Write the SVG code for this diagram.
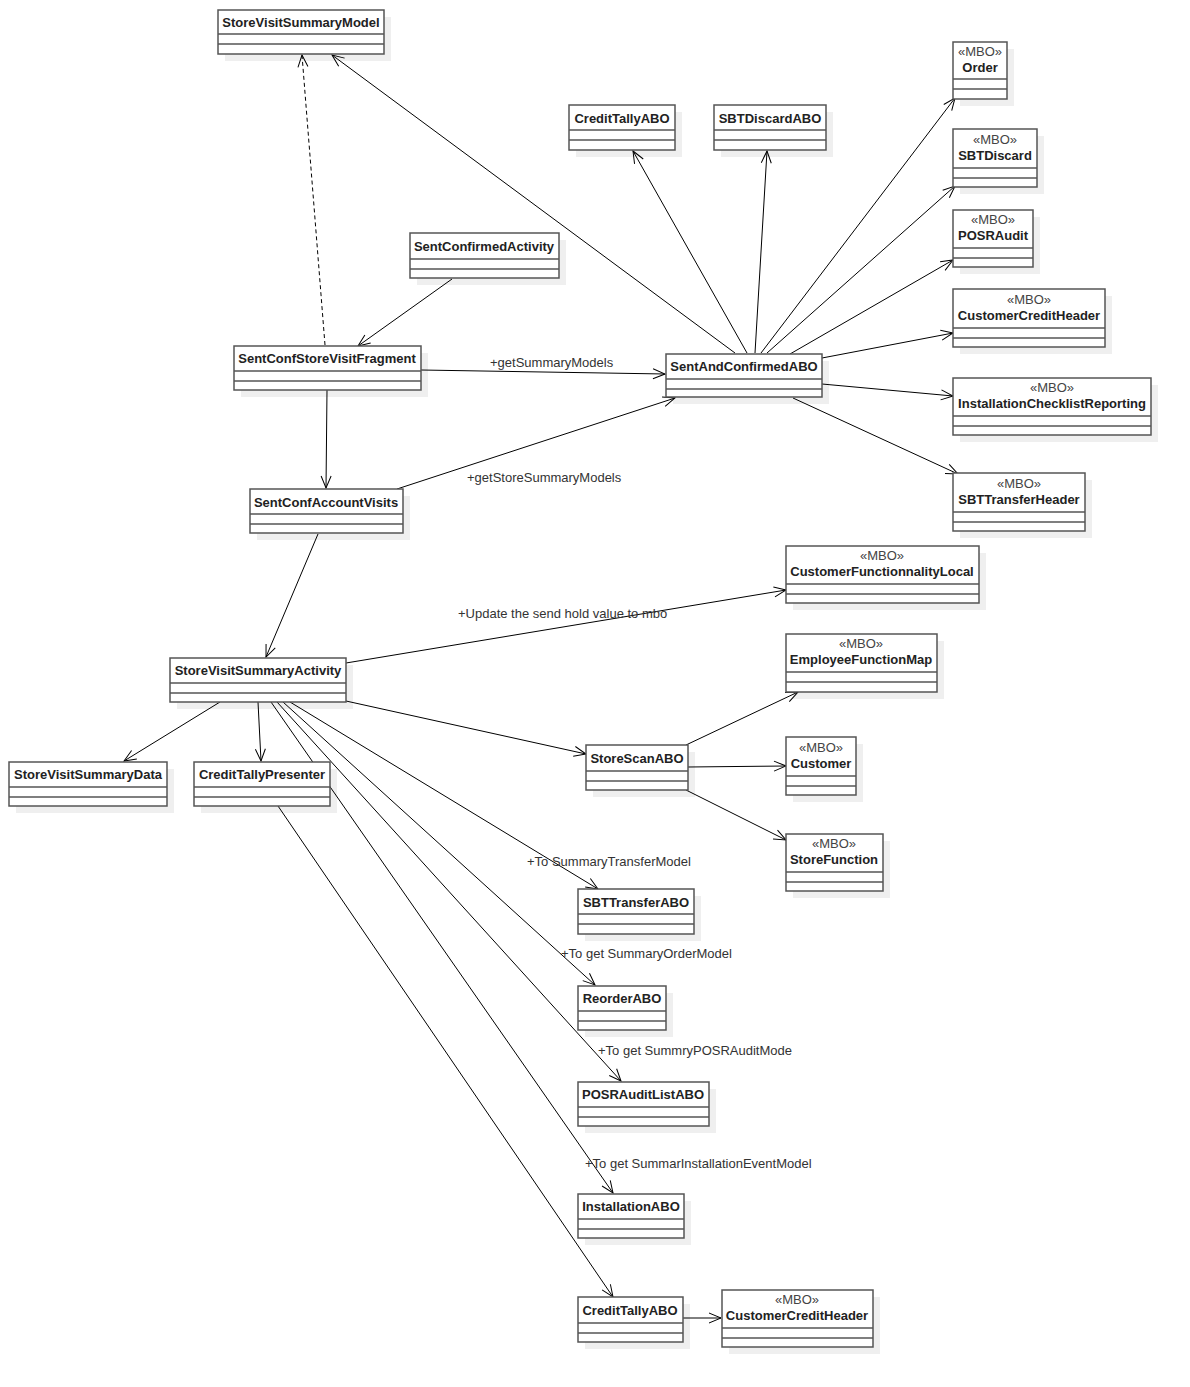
<svg xmlns="http://www.w3.org/2000/svg" width="1190" height="1387" viewBox="0 0 1190 1387">
<defs>
<style>
.sh{fill:#efefef;stroke:none}
.bx{fill:#fff;stroke:#555;stroke-width:1.5}
.sep{stroke:#555;stroke-width:1.5}
.nm{font-family:"Liberation Sans",Arial,sans-serif;font-size:13px;font-weight:bold;fill:#222;text-anchor:middle}
.st{font-family:"Liberation Sans",Arial,sans-serif;font-size:13px;fill:#444;text-anchor:middle}
.lb{font-family:"Liberation Sans",Arial,sans-serif;font-size:13px;fill:#333}
.ln{fill:none;stroke:#000;stroke-width:1;marker-end:url(#ah)}
.dl{fill:none;stroke:#000;stroke-width:1;stroke-dasharray:4,3;marker-end:url(#ah)}
</style>
<marker id="ah" markerUnits="userSpaceOnUse" markerWidth="14" markerHeight="12" refX="13" refY="6" orient="auto">
<path d="M1,1 L13,6 L1,11" fill="none" stroke="#000" stroke-width="1"/>
</marker>
</defs>
<rect width="1190" height="1387" fill="#fff"/>

<g id="shadows">
<rect class="sh" x="225" y="17" width="166" height="44"/>
<rect class="sh" x="960" y="49" width="54" height="57"/>
<rect class="sh" x="960" y="136" width="84" height="58"/>
<rect class="sh" x="960" y="217" width="80" height="57"/>
<rect class="sh" x="960" y="296" width="152" height="58"/>
<rect class="sh" x="960" y="385" width="198" height="57"/>
<rect class="sh" x="960" y="480" width="132" height="58"/>
<rect class="sh" x="576" y="112" width="106" height="45"/>
<rect class="sh" x="721" y="112" width="112" height="45"/>
<rect class="sh" x="417" y="240" width="149" height="45"/>
<rect class="sh" x="241" y="353" width="187" height="44"/>
<rect class="sh" x="673" y="361" width="156" height="43"/>
<rect class="sh" x="257" y="496" width="153" height="44"/>
<rect class="sh" x="177" y="665" width="176" height="44"/>
<rect class="sh" x="793" y="553" width="193" height="57"/>
<rect class="sh" x="793" y="641" width="151" height="58"/>
<rect class="sh" x="16" y="769" width="158" height="44"/>
<rect class="sh" x="201" y="769" width="136" height="44"/>
<rect class="sh" x="593" y="752" width="102" height="45"/>
<rect class="sh" x="793" y="744" width="70" height="58"/>
<rect class="sh" x="793" y="841" width="97" height="57"/>
<rect class="sh" x="585" y="896" width="116" height="45"/>
<rect class="sh" x="585" y="993" width="88" height="44"/>
<rect class="sh" x="585" y="1089" width="131" height="44"/>
<rect class="sh" x="585" y="1201" width="106" height="44"/>
<rect class="sh" x="585" y="1304" width="105" height="45"/>
<rect class="sh" x="729" y="1297" width="151" height="57"/>
</g>

<g id="connectors">
<line class="dl" x1="325" y1="345" x2="302" y2="55"/>
<line class="ln" x1="735" y1="353" x2="332" y2="55"/>
<line class="ln" x1="452" y1="279" x2="358" y2="346"/>
<line class="ln" x1="421" y1="370" x2="665" y2="374"/>
<line class="ln" x1="327" y1="390" x2="326" y2="488"/>
<line class="ln" x1="397" y1="489" x2="675" y2="398"/>
<line class="ln" x1="747" y1="353" x2="633" y2="151"/>
<line class="ln" x1="755" y1="353" x2="767" y2="151"/>
<line class="ln" x1="761" y1="353" x2="955" y2="98"/>
<line class="ln" x1="767" y1="353" x2="955" y2="186"/>
<line class="ln" x1="790" y1="354" x2="953" y2="260"/>
<line class="ln" x1="822" y1="358" x2="953" y2="333"/>
<line class="ln" x1="822" y1="384" x2="953" y2="396"/>
<line class="ln" x1="793" y1="398" x2="958" y2="474"/>
<line class="ln" x1="318" y1="534" x2="266" y2="657"/>
<line class="ln" x1="346" y1="663" x2="786" y2="590"/>
<line class="ln" x1="220" y1="702" x2="124" y2="761"/>
<line class="ln" x1="258" y1="702" x2="261" y2="761"/>
<line class="ln" x1="346" y1="701" x2="586" y2="754"/>
<line class="ln" x1="686" y1="745" x2="798" y2="692"/>
<line class="ln" x1="688" y1="767" x2="786" y2="766"/>
<line class="ln" x1="686" y1="790" x2="786" y2="840"/>
<line class="ln" x1="290" y1="702" x2="598" y2="889"/>
<line class="ln" x1="283" y1="702" x2="595" y2="985"/>
<line class="ln" x1="277" y1="702" x2="621" y2="1081"/>
<line class="ln" x1="271" y1="702" x2="613" y2="1193"/>
<line class="ln" x1="278" y1="806" x2="613" y2="1297"/>
<line class="ln" x1="683" y1="1318" x2="721" y2="1318"/>
<text class="lb" x="490" y="367">+getSummaryModels</text>
<text class="lb" x="467" y="482">+getStoreSummaryModels</text>
<text class="lb" x="458" y="618">+Update the send hold value to mbo</text>
<text class="lb" x="527" y="866">+To SummaryTransferModel</text>
<text class="lb" x="561" y="958">+To get SummaryOrderModel</text>
<text class="lb" x="598" y="1055">+To get SummryPOSRAuditMode</text>
<text class="lb" x="585" y="1168">+To get SummarInstallationEventModel</text>
</g>

<g id="StoreVisitSummaryModel"><rect class="bx" x="218" y="10" width="166" height="44"/><line class="sep" x1="218" y1="34" x2="384" y2="34"/><line class="sep" x1="218" y1="44" x2="384" y2="44"/><text class="nm" x="301" y="27">StoreVisitSummaryModel</text></g>

<g id="Order"><rect class="bx" x="953" y="42" width="54" height="57"/><line class="sep" x1="953" y1="79" x2="1007" y2="79"/><line class="sep" x1="953" y1="89" x2="1007" y2="89"/><text class="st" x="980" y="56">«MBO»</text><text class="nm" x="980" y="72">Order</text></g>

<g id="SBTDiscard"><rect class="bx" x="953" y="129" width="84" height="58"/><line class="sep" x1="953" y1="168" x2="1037" y2="168"/><line class="sep" x1="953" y1="178" x2="1037" y2="178"/><text class="st" x="995" y="144">«MBO»</text><text class="nm" x="995" y="160">SBTDiscard</text></g>

<g id="POSRAudit"><rect class="bx" x="953" y="210" width="80" height="57"/><line class="sep" x1="953" y1="248" x2="1033" y2="248"/><line class="sep" x1="953" y1="258" x2="1033" y2="258"/><text class="st" x="993" y="224">«MBO»</text><text class="nm" x="993" y="240">POSRAudit</text></g>

<g id="CustomerCreditHeader1"><rect class="bx" x="953" y="289" width="152" height="58"/><line class="sep" x1="953" y1="328" x2="1105" y2="328"/><line class="sep" x1="953" y1="338" x2="1105" y2="338"/><text class="st" x="1029" y="304">«MBO»</text><text class="nm" x="1029" y="320">CustomerCreditHeader</text></g>

<g id="InstallationChecklistReporting"><rect class="bx" x="953" y="378" width="198" height="57"/><line class="sep" x1="953" y1="416" x2="1151" y2="416"/><line class="sep" x1="953" y1="426" x2="1151" y2="426"/><text class="st" x="1052" y="392">«MBO»</text><text class="nm" x="1052" y="408">InstallationChecklistReporting</text></g>

<g id="SBTTransferHeader"><rect class="bx" x="953" y="473" width="132" height="58"/><line class="sep" x1="953" y1="512" x2="1085" y2="512"/><line class="sep" x1="953" y1="522" x2="1085" y2="522"/><text class="st" x="1019" y="488">«MBO»</text><text class="nm" x="1019" y="504">SBTTransferHeader</text></g>

<g id="CreditTallyABO1"><rect class="bx" x="569" y="105" width="106" height="45"/><line class="sep" x1="569" y1="130" x2="675" y2="130"/><line class="sep" x1="569" y1="140" x2="675" y2="140"/><text class="nm" x="622" y="123">CreditTallyABO</text></g>

<g id="SBTDiscardABO"><rect class="bx" x="714" y="105" width="112" height="45"/><line class="sep" x1="714" y1="130" x2="826" y2="130"/><line class="sep" x1="714" y1="140" x2="826" y2="140"/><text class="nm" x="770" y="123">SBTDiscardABO</text></g>

<g id="SentConfirmedActivity"><rect class="bx" x="410" y="233" width="149" height="45"/><line class="sep" x1="410" y1="259" x2="559" y2="259"/><line class="sep" x1="410" y1="269" x2="559" y2="269"/><text class="nm" x="484" y="251">SentConfirmedActivity</text></g>

<g id="SentConfStoreVisitFragment"><rect class="bx" x="234" y="346" width="187" height="44"/><line class="sep" x1="234" y1="371" x2="421" y2="371"/><line class="sep" x1="234" y1="381" x2="421" y2="381"/><text class="nm" x="327" y="363">SentConfStoreVisitFragment</text></g>

<g id="SentAndConfirmedABO"><rect class="bx" x="666" y="354" width="156" height="43"/><line class="sep" x1="666" y1="379" x2="822" y2="379"/><line class="sep" x1="666" y1="389" x2="822" y2="389"/><text class="nm" x="744" y="371">SentAndConfirmedABO</text></g>

<g id="SentConfAccountVisits"><rect class="bx" x="250" y="489" width="153" height="44"/><line class="sep" x1="250" y1="514" x2="403" y2="514"/><line class="sep" x1="250" y1="524" x2="403" y2="524"/><text class="nm" x="326" y="507">SentConfAccountVisits</text></g>

<g id="StoreVisitSummaryActivity"><rect class="bx" x="170" y="658" width="176" height="44"/><line class="sep" x1="170" y1="683" x2="346" y2="683"/><line class="sep" x1="170" y1="693" x2="346" y2="693"/><text class="nm" x="258" y="675">StoreVisitSummaryActivity</text></g>

<g id="CustomerFunctionnalityLocal"><rect class="bx" x="786" y="546" width="193" height="57"/><line class="sep" x1="786" y1="584" x2="979" y2="584"/><line class="sep" x1="786" y1="594" x2="979" y2="594"/><text class="st" x="882" y="560">«MBO»</text><text class="nm" x="882" y="576">CustomerFunctionnalityLocal</text></g>

<g id="EmployeeFunctionMap"><rect class="bx" x="786" y="634" width="151" height="58"/><line class="sep" x1="786" y1="672" x2="937" y2="672"/><line class="sep" x1="786" y1="682" x2="937" y2="682"/><text class="st" x="861" y="648">«MBO»</text><text class="nm" x="861" y="664">EmployeeFunctionMap</text></g>

<g id="StoreVisitSummaryData"><rect class="bx" x="9" y="762" width="158" height="44"/><line class="sep" x1="9" y1="787" x2="167" y2="787"/><line class="sep" x1="9" y1="797" x2="167" y2="797"/><text class="nm" x="88" y="779">StoreVisitSummaryData</text></g>

<g id="CreditTallyPresenter"><rect class="bx" x="194" y="762" width="136" height="44"/><line class="sep" x1="194" y1="787" x2="330" y2="787"/><line class="sep" x1="194" y1="797" x2="330" y2="797"/><text class="nm" x="262" y="779">CreditTallyPresenter</text></g>

<g id="StoreScanABO"><rect class="bx" x="586" y="745" width="102" height="45"/><line class="sep" x1="586" y1="771" x2="688" y2="771"/><line class="sep" x1="586" y1="781" x2="688" y2="781"/><text class="nm" x="637" y="763">StoreScanABO</text></g>

<g id="Customer"><rect class="bx" x="786" y="737" width="70" height="58"/><line class="sep" x1="786" y1="776" x2="856" y2="776"/><line class="sep" x1="786" y1="786" x2="856" y2="786"/><text class="st" x="821" y="752">«MBO»</text><text class="nm" x="821" y="768">Customer</text></g>

<g id="StoreFunction"><rect class="bx" x="786" y="834" width="97" height="57"/><line class="sep" x1="786" y1="872" x2="883" y2="872"/><line class="sep" x1="786" y1="882" x2="883" y2="882"/><text class="st" x="834" y="848">«MBO»</text><text class="nm" x="834" y="864">StoreFunction</text></g>

<g id="SBTTransferABO"><rect class="bx" x="578" y="889" width="116" height="45"/><line class="sep" x1="578" y1="914" x2="694" y2="914"/><line class="sep" x1="578" y1="924" x2="694" y2="924"/><text class="nm" x="636" y="907">SBTTransferABO</text></g>

<g id="ReorderABO"><rect class="bx" x="578" y="986" width="88" height="44"/><line class="sep" x1="578" y1="1011" x2="666" y2="1011"/><line class="sep" x1="578" y1="1021" x2="666" y2="1021"/><text class="nm" x="622" y="1003">ReorderABO</text></g>

<g id="POSRAuditListABO"><rect class="bx" x="578" y="1082" width="131" height="44"/><line class="sep" x1="578" y1="1107" x2="709" y2="1107"/><line class="sep" x1="578" y1="1117" x2="709" y2="1117"/><text class="nm" x="643" y="1099">POSRAuditListABO</text></g>

<g id="InstallationABO"><rect class="bx" x="578" y="1194" width="106" height="44"/><line class="sep" x1="578" y1="1219" x2="684" y2="1219"/><line class="sep" x1="578" y1="1229" x2="684" y2="1229"/><text class="nm" x="631" y="1211">InstallationABO</text></g>

<g id="CreditTallyABO2"><rect class="bx" x="578" y="1297" width="105" height="45"/><line class="sep" x1="578" y1="1323" x2="683" y2="1323"/><line class="sep" x1="578" y1="1333" x2="683" y2="1333"/><text class="nm" x="630" y="1315">CreditTallyABO</text></g>

<g id="CustomerCreditHeader2"><rect class="bx" x="722" y="1290" width="151" height="57"/><line class="sep" x1="722" y1="1328" x2="873" y2="1328"/><line class="sep" x1="722" y1="1338" x2="873" y2="1338"/><text class="st" x="797" y="1304">«MBO»</text><text class="nm" x="797" y="1320">CustomerCreditHeader</text></g>
</svg>
